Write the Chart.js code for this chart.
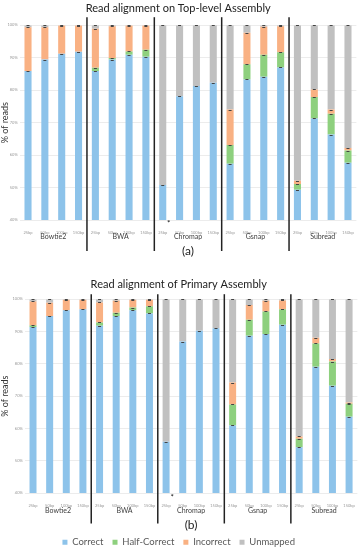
<!DOCTYPE html>
<html>
<head>
<meta charset="utf-8">
<script src="https://cdn.jsdelivr.net/npm/chart.js@4.4.1/dist/chart.umd.min.js"></script>
<style>
  html, body { margin: 0; background: #fff; height: 550px; overflow: hidden; }
  canvas { display: block; }
</style>
</head>
<body>
<canvas id="chartA" width="362" height="262"></canvas>
<canvas id="chartB" width="362" height="295"></canvas>
<script>
const readLengths = ['25bp', '50bp', '100bp', '150bp'];
const aligners = ['Bowtie2', 'BWA', 'Chromap', 'Gsnap', 'Subread'];
const yTicks = [40, 50, 60, 70, 80, 90, 100];
const seriesNames = ['Correct', 'Half-Correct', 'Incorrect', 'Unmapped'];

// (a) top-level assembly, % of reads (aligner x read length)
const correctA   = [85.9, 89.4, 91.2, 91.8, 85.9, 89.4, 90.9, 90.3, 50.8, 78.1, 81.3, 82.3, 57.3, 83.3, 84.1, 87.0, 49.3, 71.3, 66.3, 57.6];
const halfA      = [0, 0, 0, 0, 1.0, 0.5, 1.0, 2.1, 0, 0, 0, 0, 5.8, 4.7, 6.8, 4.7, 1.8, 6.6, 6.4, 3.8];
const incorrectA = [13.5, 10.0, 8.7, 8.1, 12.0, 9.8, 8.0, 7.5, 0, 0, 0, 0, 10.9, 9.7, 8.6, 8.0, 1.0, 2.3, 1.3, 0.8];
const unmappedA  = [0.6, 0.6, 0.1, 0.1, 1.1, 0.3, 0.1, 0.1, 49.2, 21.9, 18.7, 17.7, 26.0, 2.3, 0.5, 0.3, 47.9, 19.8, 26.0, 37.8];

// (b) primary assembly
const correctB   = [91.4, 94.8, 96.6, 96.9, 91.8, 94.8, 96.6, 95.6, 55.9, 86.9, 90.2, 91.0, 60.9, 88.7, 89.2, 92.1, 54.2, 79.1, 73.2, 63.6];
const halfB      = [0.5, 0, 0, 0, 1.0, 1.0, 0.8, 2.2, 0, 0, 0, 0, 6.5, 4.9, 7.0, 4.8, 2.6, 7.2, 7.5, 4.0];
const incorrectB = [7.4, 4.1, 3.2, 2.9, 6.2, 3.7, 2.4, 2.0, 0, 0, 0, 0, 6.8, 4.6, 3.3, 2.7, 0.7, 1.8, 0.8, 0.4];
const unmappedB  = [0.7, 1.1, 0.2, 0.2, 1.0, 0.5, 0.2, 0.2, 44.1, 13.1, 9.8, 9.0, 25.8, 1.8, 0.5, 0.4, 42.5, 11.9, 18.5, 32.0];

const colors = ['#8DC3EA', '#8ED07E', '#F9B183', '#C0C0C0'];
const FONT = 'Lato, "Open Sans", sans-serif';

const labels = aligners.flatMap(() => readLengths);

// group names, separators, panel tag, error caps
const groupPlugin = {
  id: 'groups',
  afterDatasetsDraw(chart) {
    const ctx = chart.ctx;
    ctx.save();
    ctx.strokeStyle = '#444';
    ctx.lineWidth = 1;
    chart.data.datasets.forEach((ds, i) => {
      const meta = chart.getDatasetMeta(i);
      meta.data.forEach((bar, j) => {
        if (!ds.data[j]) return;
        const y = Math.round(bar.y) + 0.5;
        ctx.beginPath();
        ctx.moveTo(bar.x - 1.5, y);
        ctx.lineTo(bar.x + 1.5, y);
        ctx.stroke();
      });
    });
    ctx.restore();
  },
  afterDraw(chart, args, opts) {
    const { ctx, chartArea } = chart;
    const x = chart.scales.x;
    ctx.save();
    ctx.strokeStyle = '#222';
    ctx.lineWidth = 1.5;
    for (let g = 1; g < aligners.length; g++) {
      const px = x.getPixelForValue(g * 4 - 0.5);
      ctx.beginPath();
      ctx.moveTo(px, chartArea.top - opts.lineUp);
      ctx.lineTo(px, chartArea.bottom + opts.lineDown);
      ctx.stroke();
    }
    ctx.fillStyle = '#404040';
    ctx.font = '7px ' + FONT;
    ctx.textAlign = 'center';
    ctx.textBaseline = 'middle';
    aligners.forEach((name, g) => {
      ctx.fillText(name, x.getPixelForValue(g * 4 + 1.5), chartArea.bottom + opts.groupY);
    });
    // asterisk beside Chromap 25bp
    ctx.fillStyle = '#111';
    ctx.font = '8px ' + FONT;
    ctx.fillText('*', x.getPixelForValue(8) + 6, chartArea.bottom + opts.starY);
    ctx.fillStyle = '#222';
    ctx.font = '12px ' + FONT;
    ctx.fillText(opts.tag, (chartArea.left + chartArea.right) / 2, chartArea.bottom + opts.tagY);
    ctx.restore();
  }
};

function makeChart(id, title, tag, series, cfg) {
  const datasets = series.map((data, i) => ({
    label: seriesNames[i],
    data: data,
    backgroundColor: colors[i],
    barPercentage: 0.42,
    categoryPercentage: 1.0
  }));
  return new Chart(document.getElementById(id), {
    type: 'bar',
    data: { labels: labels, datasets: datasets },
    plugins: [groupPlugin],
    options: {
      responsive: false,
      animation: false,
      layout: { padding: { top: cfg.padTop, right: cfg.padRight, bottom: cfg.padBottom, left: 0 } },
      plugins: {
        title: {
          display: true,
          text: title,
          color: '#222',
          font: { family: FONT, size: 11, weight: 'normal' },
          padding: { top: 0, bottom: cfg.titleGap }
        },
        legend: {
          display: cfg.legend,
          position: 'bottom',
          labels: {
            boxWidth: 5, boxHeight: 5, padding: 9,
            color: '#595959',
            font: { family: FONT, size: 9.5 }
          }
        },
        tooltip: { enabled: false },
        groups: { tag: tag, lineUp: cfg.lineUp, lineDown: cfg.lineDown, groupY: cfg.groupY, tagY: cfg.tagY, starY: cfg.starY }
      },
      scales: {
        x: {
          stacked: true,
          grid: { display: false },
          border: { display: false },
          ticks: { color: '#999', font: { family: FONT, size: 4 }, padding: 2, maxRotation: 0, autoSkip: false },
          afterFit: s => { s.height = cfg.xHeight; }
        },
        y: {
          stacked: true,
          min: 40, max: 100,
          afterBuildTicks: s => { s.ticks = yTicks.map(v => ({ value: v })); },
          ticks: { color: '#999', font: { family: FONT, size: 4 }, padding: 2, callback: v => v + '%' },
          grid: { color: '#ececec', drawTicks: false },
          border: { display: false },
          title: { display: true, text: '% of reads', color: '#333', font: { family: FONT, size: 9 }, padding: 0 },
          afterFit: s => { s.width = cfg.yWidth; }
        }
      }
    }
  });
}

makeChart('chartA', 'Read alignment on Top-level Assembly', '(a)',
  [correctA, halfA, incorrectA, unmappedA],
  { padTop: 2, padRight: 5.6, padBottom: 0, titleGap: 10, legend: false, xHeight: 42,
    yWidth: 19.6, lineUp: 8, lineDown: 31, groupY: 16.5, tagY: 31.5, starY: 3.5 });

makeChart('chartB', 'Read alignment of Primary Assembly', '(b)',
  [correctB, halfB, incorrectB, unmappedB],
  { padTop: 16, padRight: 4.6, padBottom: 0, titleGap: 8, legend: true, xHeight: 35.5,
    yWidth: 24.7, lineUp: 5, lineDown: 30.5, groupY: 17.5, tagY: 32.5, starY: 4.5 });
</script>
</body>
</html>
